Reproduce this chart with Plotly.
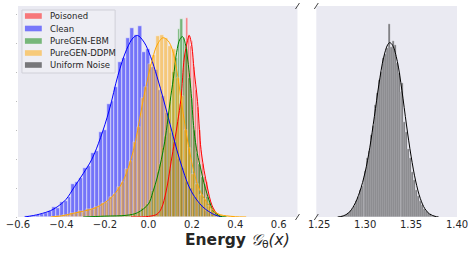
import plotly.graph_objects as go

# ---------------- data ----------------
series_names = ["Poisoned", "Clean", "PureGEN-EBM", "PureGEN-DDPM", "Uniform Noise"]
series_colors = ["red", "blue", "green", "orange", "black"]

# histogram bins: start, width, heights (density)
poisoned_bin_start = -0.08
poisoned_bin_width = 0.0082
poisoned_heights = [0, 0, 0, 0, 0.01, 0, 0.01, 0.01, 0.01, 0.02,
                    0.02, 0.03, 0.05, 0.06, 0.1, 0.14, 0.25, 0.33, 0.62, 0.8,
                    1.2, 1.45, 1.95, 2.2, 2.7, 3.1, 3.3, 3.9, 4.3, 5.4,
                    5.6, 6.9, 6.3, 5.9, 6.1, 5.2, 4.4, 3.8, 3.0, 2.2,
                    1.85, 1.4, 1.2, 0.8, 0.6, 0.38, 0.28, 0.15, 0.1, 0.03]

clean_bin_start = -0.57
clean_bin_width = 0.018
clean_heights = [0.02, 0.03, 0.05, 0.08, 0.10, 0.15, 0.22, 0.35, 0.30, 0.52,
                 0.55, 0.70, 1.15, 1.2, 1.35, 1.7, 1.75, 2.2, 2.3, 2.95,
                 3.0, 3.9, 4.0, 4.5, 5.35, 5.5, 6.2, 6.55, 6.3, 6.6,
                 5.7, 5.8, 5.2, 5.1, 4.4, 4.2, 3.6, 2.9, 2.6, 2.0,
                 1.7, 1.2, 1.0, 0.7, 0.5, 0.4, 0.22, 0.14, 0.08, 0.04]

ebm_bin_start = -0.25
ebm_bin_width = 0.012
ebm_heights = [0.01, 0, 0.02, 0.02, 0.03, 0.03, 0.04, 0.03, 0.05, 0.05,
               0.06, 0.05, 0.07, 0.07, 0.1, 0.12, 0.15, 0.18, 0.3, 0.33,
               0.45, 0.58, 0.9, 1.1, 1.55, 1.85, 2.4, 2.8, 3.6, 4.1,
               5.0, 5.5, 6.5, 6.85, 6.2, 5.8, 4.8, 4.1, 3.0, 2.2,
               1.85, 1.4, 1.15, 0.7, 0.5, 0.27, 0.15, 0.07, 0.03, 0.01]

ddpm_bin_start = -0.45
ddpm_bin_width = 0.018
ddpm_heights = [0.01, 0.02, 0.03, 0.07, 0.08, 0.13, 0.14, 0.2, 0.19, 0.26,
                0.27, 0.35, 0.38, 0.5, 0.52, 0.7, 0.78, 1.05, 1.2, 1.65,
                1.95, 2.6, 3.1, 4.1, 4.5, 5.3, 5.6, 6.25, 6.3, 6.2,
                5.9, 5.8, 4.8, 4.2, 3.0, 2.4, 1.5, 1.15, 0.75, 0.62,
                0.38, 0.24, 0.13, 0.08, 0.04, 0.03, 0.02, 0.01, 0.0, 0.01]

uniform_bin_start = 1.272
uniform_bin_width = 0.00212
uniform_heights = [0.02, 0.1, 0.2, 0.3, 0.6, 0.9, 1.2, 1.6, 2.3, 2.9,
                   3.9, 4.5, 5.8, 6.7, 8.6, 9.6, 11.8, 13.2, 16.2, 17.9,
                   19.8, 21.0, 23.0, 23.6, 24.4, 27.9, 24.6, 25.4, 24.9, 22.3,
                   20.8, 18.0, 19.4, 13.8, 12.3, 9.8, 8.6, 6.5, 5.4, 3.9,
                   3.1, 2.3, 1.8, 1.2, 0.9, 0.6, 0.4, 0.2, 0.1, 0.05]

# KDE curves
poisoned_kde_x = [-0.08, 0.00, 0.04, 0.06, 0.082, 0.105, 0.12, 0.135, 0.15, 0.165, 0.18, 0.188,
                  0.20, 0.21, 0.226, 0.24, 0.25, 0.263, 0.275, 0.286, 0.30, 0.317, 0.33]
poisoned_kde_y = [0.0, 0.02, 0.1, 0.3, 0.9, 1.93, 2.6, 3.3, 4.1, 5.5, 6.1, 6.28,
                  5.9, 5.1, 4.0, 2.5, 1.9, 1.34, 0.9, 0.55, 0.28, 0.1, 0.0]

clean_kde_x = [-0.57, -0.53, -0.50, -0.45, -0.42, -0.38, -0.34, -0.30, -0.26, -0.22, -0.18, -0.14,
               -0.10, -0.07, -0.05, -0.02, 0.01, 0.04, 0.07, 0.10, 0.13, 0.16, 0.19, 0.22, 0.25,
               0.28, 0.31, 0.34]
clean_kde_y = [0.0, 0.05, 0.10, 0.22, 0.35, 0.6, 1.05, 1.5, 2.0, 2.75, 3.7, 4.9,
               5.8, 6.2, 6.28, 6.05, 5.55, 4.85, 4.05, 3.2, 2.35, 1.6, 1.0, 0.62, 0.35,
               0.18, 0.06, 0.0]

ebm_kde_x = [-0.30, -0.20, -0.10, -0.05, 0.00, 0.02, 0.04, 0.06, 0.075, 0.09, 0.10, 0.115, 0.13,
             0.145, 0.157, 0.17, 0.18, 0.195, 0.21, 0.225, 0.24, 0.255, 0.27, 0.285, 0.30, 0.33, 0.36]
ebm_kde_y = [0.0, 0.03, 0.06, 0.15, 0.45, 0.85, 1.35, 2.0, 2.6, 3.4, 4.0, 4.8, 5.7,
             6.15, 6.24, 6.0, 5.5, 4.45, 3.0, 2.2, 1.7, 1.2, 0.8, 0.45, 0.2, 0.03, 0.0]

ddpm_kde_x = [-0.45, -0.40, -0.35, -0.30, -0.25, -0.20, -0.17, -0.14, -0.11, -0.08, -0.06, -0.04,
              -0.02, 0.00, 0.02, 0.04, 0.067, 0.09, 0.11, 0.13, 0.15, 0.17, 0.19, 0.21, 0.23, 0.25,
              0.27, 0.29, 0.31, 0.33, 0.36, 0.40, 0.45]
ddpm_kde_y = [0.0, 0.04, 0.12, 0.2, 0.3, 0.5, 0.68, 0.95, 1.35, 2.0, 2.6, 3.4,
              4.2, 4.9, 5.5, 5.95, 6.2, 6.1, 5.8, 5.1, 4.1, 3.1, 2.25, 1.55, 1.05, 0.72,
              0.5, 0.3, 0.16, 0.08, 0.04, 0.01, 0.0]

uniform_kde_x = [1.270, 1.276, 1.282, 1.288, 1.294, 1.300, 1.305, 1.310, 1.315, 1.320, 1.3245,
                 1.3268, 1.330, 1.335, 1.340, 1.345, 1.350, 1.355, 1.360, 1.365, 1.370, 1.376, 1.380]
uniform_kde_y = [0.0, 0.15, 0.6, 1.7, 3.6, 6.5, 10.0, 14.5, 19.2, 23.0, 24.9,
                 25.2, 24.8, 22.5, 18.3, 13.3, 8.8, 5.2, 2.7, 1.2, 0.45, 0.1, 0.0]

left_xticks = [-0.6, -0.4, -0.2, 0.0, 0.2, 0.4, 0.6]
right_xticks = [1.25, 1.30, 1.35, 1.40]

# ---------------- figure ----------------
W, H = 474, 253
ML, MR, MT, MB = 16, 15, 6, 36
left_dom = [0.0, 0.6366]
right_dom = [0.6795, 1.0]

pw = W - ML - MR
ph = H - MT - MB


def px_x(p):
    return (p - ML) / pw


def px_y(p):
    return 1 - (p - MT) / ph


fig = go.Figure()


def centers(start, width, n):
    return [start + width * (i + 0.5) for i in range(n)]


hist_specs = [
    (poisoned_bin_start, poisoned_bin_width, poisoned_heights, "x", "y", 0.5),
    (clean_bin_start, clean_bin_width, clean_heights, "x", "y", 0.5),
    (ebm_bin_start, ebm_bin_width, ebm_heights, "x", "y", 0.5),
    (ddpm_bin_start, ddpm_bin_width, ddpm_heights, "x", "y", 0.5),
    (uniform_bin_start, uniform_bin_width, uniform_heights, "x2", "y2", 0.3),
]
kde_specs = [
    (poisoned_kde_x, poisoned_kde_y, "x", "y"),
    (clean_kde_x, clean_kde_y, "x", "y"),
    (ebm_kde_x, ebm_kde_y, "x", "y"),
    (ddpm_kde_x, ddpm_kde_y, "x", "y"),
    (uniform_kde_x, uniform_kde_y, "x2", "y2"),
]

for name, color, (start, width, heights, xa, ya, lw) in zip(series_names, series_colors, hist_specs):
    fig.add_trace(go.Bar(
        x=centers(start, width, len(heights)), y=heights, width=width,
        marker=dict(color=color, line=dict(color="white", width=lw)),
        opacity=0.5, name=name, xaxis=xa, yaxis=ya, showlegend=False,
    ))

for name, color, (kx, ky, xa, ya) in zip(series_names, series_colors, kde_specs):
    fig.add_trace(go.Scatter(
        x=kx, y=ky, mode="lines", line=dict(color=color, width=1, shape="spline"),
        name=name + " KDE", xaxis=xa, yaxis=ya, showlegend=False, hoverinfo="skip",
    ))

fig.update_layout(
    width=W, height=H,
    margin=dict(l=ML, r=MR, t=MT, b=MB, pad=0),
    paper_bgcolor="white", plot_bgcolor="#EAEAF2",
    barmode="overlay", bargap=0,
    showlegend=False,
    font=dict(family="DejaVu Sans", color="#262626"),
    xaxis=dict(domain=left_dom, range=[-0.6, 0.686], tickvals=left_xticks, tickformat=".1f",
               showgrid=False, zeroline=False, ticks="", tickfont=dict(size=10, color="#262626"),
               ticklabeloverflow="allow", anchor="y"),
    yaxis=dict(domain=[0, 1], range=[0, 7.3], dtick=1, showgrid=False, zeroline=False,
               showticklabels=False, ticks="outside", ticklen=1, tickcolor="#bbbbbb", anchor="x"),
    xaxis2=dict(domain=right_dom, range=[1.2468, 1.40], tickvals=right_xticks, tickformat=".2f",
                showgrid=False, zeroline=False, ticks="", tickfont=dict(size=10, color="#262626"),
                ticklabeloverflow="allow", anchor="y2"),
    yaxis2=dict(domain=[0, 1], range=[0, 30.5], showgrid=False, zeroline=False,
                showticklabels=False, ticks="", anchor="x2"),
)

# axis title
fig.add_annotation(
    xref="paper", yref="paper", x=px_x(237), y=px_y(241),
    xanchor="center", yanchor="middle", showarrow=False,
    text="<b>Energy</b> <i>𝒢</i><sub>θ</sub><i>(x)</i>",
    font=dict(size=15.5, color="#262626"),
)

# broken-axis marks
dx = 2 / pw
dy = 3 / ph
for xe in (left_dom[1], right_dom[0]):
    for ye in (0, 1):
        fig.add_shape(type="line", xref="paper", yref="paper",
                      x0=xe - dx, y0=ye - dy, x1=xe + dx, y1=ye + dy,
                      line=dict(color="#444444", width=1))

# legend (drawn manually to match the compact matplotlib legend)
fig.add_shape(type="rect", xref="paper", yref="paper",
              x0=px_x(20), x1=px_x(114), y0=px_y(73), y1=px_y(10),
              line=dict(color="#d0d0d8", width=1), fillcolor="rgba(238,238,244,0.85)")
legend_rows = [16, 28.5, 41, 53, 65]
for name, color, yy in zip(series_names, series_colors, legend_rows):
    fig.add_shape(type="rect", xref="paper", yref="paper",
                  x0=px_x(23), x1=px_x(40), y0=px_y(yy + 2.8), y1=px_y(yy - 2.8),
                  line=dict(width=0), fillcolor=color, opacity=0.5)
    fig.add_annotation(xref="paper", yref="paper", x=px_x(46), y=px_y(yy),
                       xanchor="left", yanchor="middle", showarrow=False,
                       text=name, font=dict(size=8.5, color="#262626"))

fig.write_html("out.html",
               config={"displayModeBar": False},
               post_script="document.body.style.margin='0';document.body.style.overflow='hidden';")
